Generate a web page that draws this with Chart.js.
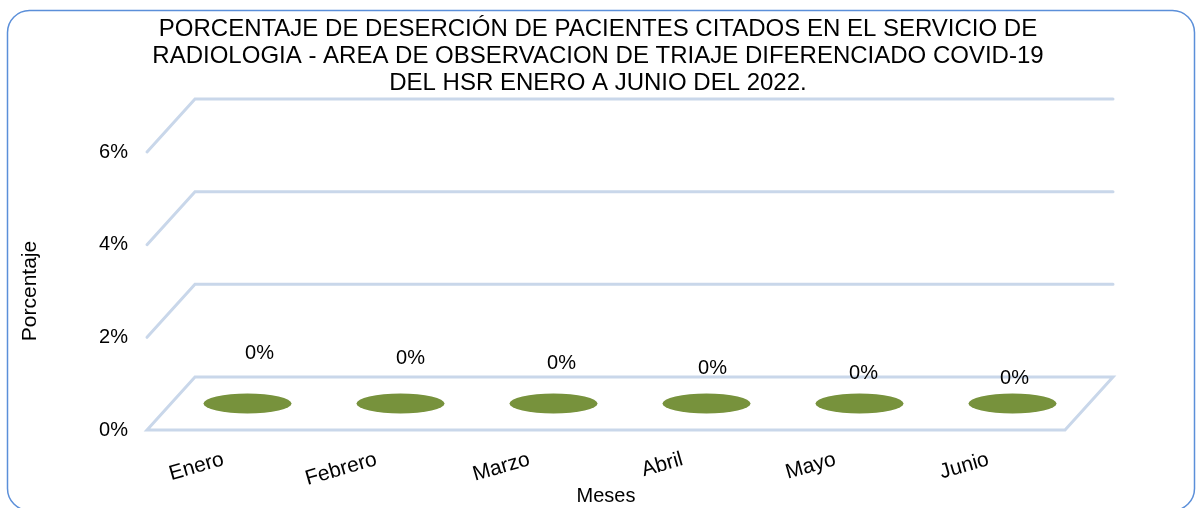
<!DOCTYPE html>
<html>
<head>
<meta charset="utf-8">
<script src="https://cdn.jsdelivr.net/npm/chart.js@4"></script>
<style>
  html, body { margin: 0; padding: 0; background: #fff; }
  #wrap { width: 1196px; height: 508px; position: relative; }
</style>
</head>
<body>
<div id="wrap"><canvas id="chart" width="1196" height="508"></canvas></div>
<script>
const meses = ['Enero', 'Febrero', 'Marzo', 'Abril', 'Mayo', 'Junio'];
const porcentaje = [0, 0, 0, 0, 0, 0];
const yTicks = [0, 0.02, 0.04, 0.06];

const titleLines = [
  'PORCENTAJE DE DESERCIÓN DE PACIENTES CITADOS EN EL SERVICIO DE',
  'RADIOLOGIA - AREA DE OBSERVACION DE TRIAJE DIFERENCIADO COVID-19',
  'DEL HSR ENERO A JUNIO DEL 2022.'
];

// depth of the fake 3d box
const DX = 48, DY = -53;
const gridColor = '#c9d7ea';
const fontFam = '"Liberation Sans", Arial, sans-serif';

const pct = v => Math.round(v * 100) + '%';

// outer rounded frame
const framePlugin = {
  id: 'frame',
  beforeDraw(chart) {
    const ctx = chart.ctx;
    ctx.save();
    ctx.strokeStyle = '#5b8fd9';
    ctx.lineWidth = 1.5;
    ctx.beginPath();
    ctx.roundRect(7.5, 10.5, 1187, 500, 22);
    ctx.stroke();
    ctx.restore();
  }
};

// walls, floor and the flat cylinder tops
const wallsPlugin = {
  id: 'walls',
  beforeDatasetsDraw(chart) {
    const { ctx, chartArea, scales } = chart;
    const left = chartArea.left, right = chartArea.right;
    ctx.save();
    ctx.strokeStyle = gridColor;
    ctx.lineWidth = 3;
    ctx.lineCap = 'round';
    yTicks.forEach(t => {
      const y = scales.y.getPixelForValue(t);
      ctx.beginPath();
      ctx.moveTo(left, y);
      ctx.lineTo(left + DX, y + DY);
      ctx.lineTo(right + DX, y + DY);
      if (t === 0) {
        ctx.lineTo(right, y);
        ctx.closePath();
      }
      ctx.stroke();
    });
    ctx.restore();
  },
  afterDatasetsDraw(chart) {
    const { ctx } = chart;
    const meta = chart.getDatasetMeta(0);
    ctx.save();
    meta.data.forEach((bar, i) => {
      const cx = bar.x + DX / 2;
      const cy = bar.y + DY / 2;
      ctx.fillStyle = '#77923c';
      ctx.beginPath();
      ctx.ellipse(cx, cy, 44, 10, 0, 0, Math.PI * 2);
      ctx.fill();
      ctx.fillStyle = '#000';
      ctx.font = '20px ' + fontFam;
      ctx.textAlign = 'center';
      ctx.textBaseline = 'middle';
      ctx.fillText(pct(porcentaje[i]), cx + 12 - 2 * i, cy - 50 + 5 * i);
    });
    ctx.restore();
  }
};

new Chart(document.getElementById('chart'), {
  type: 'bar',
  data: {
    labels: meses,
    datasets: [{
      data: porcentaje,
      backgroundColor: 'rgba(0,0,0,0)'
    }]
  },
  options: {
    responsive: false,
    animation: false,
    layout: { padding: 0 },
    plugins: {
      legend: { display: false },
      tooltip: { enabled: false },
      title: {
        display: true,
        text: titleLines,
        color: '#000',
        font: { family: fontFam, size: 24, weight: 'normal', lineHeight: 1.125 },
        padding: { top: 16, bottom: 55 }
      }
    },
    scales: {
      x: {
        grid: { display: false, drawTicks: false },
        border: { display: false },
        afterFit(scale) { scale.height = 78; },
        ticks: {
          color: '#000',
          font: { family: fontFam, size: 21 },
          minRotation: 16,
          maxRotation: 16,
          padding: 17
        },
        title: {
          display: true,
          text: 'Meses',
          color: '#000',
          font: { family: fontFam, size: 20 },
          padding: 0
        }
      },
      y: {
        min: 0,
        max: 0.06,
        grid: { display: false, drawTicks: false },
        border: { display: false },
        afterFit(scale) { scale.width = 147; },
        afterBuildTicks(scale) {
          scale.ticks = yTicks.map(v => ({ value: v }));
        },
        ticks: {
          color: '#000',
          font: { family: fontFam, size: 20 },
          padding: 19,
          callback: v => pct(v)
        },
        title: {
          display: true,
          text: 'Porcentaje',
          color: '#000',
          font: { family: fontFam, size: 21 },
          padding: { top: 18, bottom: 0 }
        }
      },
      // empty right axis, only keeps room for the back wall
      side: {
        position: 'right',
        display: true,
        grid: { display: false, drawTicks: false },
        border: { display: false },
        ticks: { display: false },
        afterFit(scale) { scale.width = 131; }
      }
    }
  },
  plugins: [framePlugin, wallsPlugin]
});
</script>
</body>
</html>
